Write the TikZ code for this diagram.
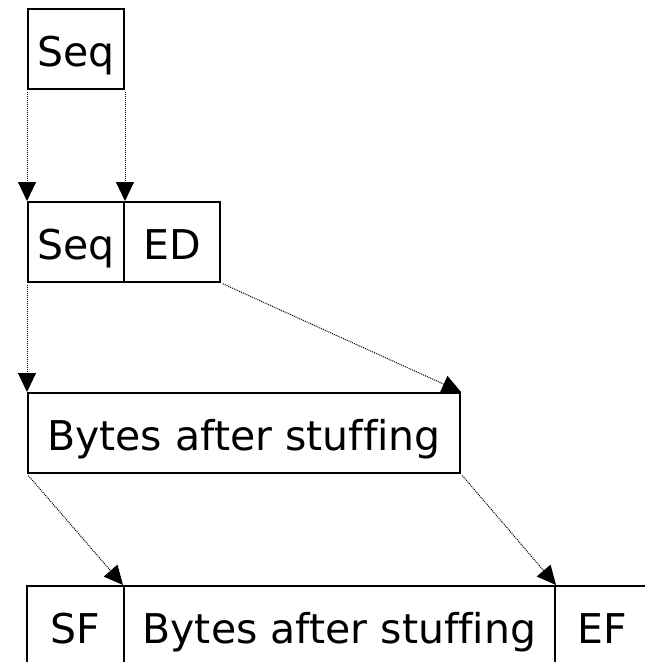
\documentclass[tikz,border=0pt]{standalone}
\usepackage{fontspec}
\setmainfont{DejaVu Sans}[Ligatures={NoCommon}]
\usetikzlibrary{arrows.meta}
\tikzset{
  field/.style={draw=black, line width=2pt, rectangle, inner sep=0pt, minimum height=80pt,
    text height=34pt, text depth=0pt, font=\fontsize{41}{49}\selectfont},
  flow/.style={draw=black, line width=1pt, dash pattern=on 1pt off 1pt,
    -{Triangle[length=19pt,width=18pt]}, shorten <=2pt}
}
\begin{document}
\begin{tikzpicture}[x=1pt,y=-1pt]
\useasboundingbox (0,0) rectangle (645,662);
\clip (0,0) rectangle (645,662);
\node[field, minimum width=96pt] (s1) at (76,49) {Seq};
\node[field, minimum width=96pt] (s2) at (76,242) {Seq};
\node[field, minimum width=96pt] (ed) at (172,242) {ED};
\node[field, minimum width=432pt] (b3) at (244,433) {Bytes after stuffing};
\node[field, minimum width=97pt] (sf) at (75.5,626) {SF};
\node[field, minimum width=431pt] (b4) at (339.5,626) {Bytes after stuffing};
\node[field, minimum width=95pt] (ef) at (602.5,626) {EF};
\draw[flow] (s1.south west) -- (s2.north west);
\draw[flow] (s1.south east) -- (s2.north east);
\draw[flow] (s2.south west) -- (b3.north west);
\draw[flow] (ed.south east) -- (b3.north east);
\draw[flow] (b3.south west) -- (b4.north west);
\draw[flow] (b3.south east) -- (b4.north east);
\end{tikzpicture}
\end{document}
